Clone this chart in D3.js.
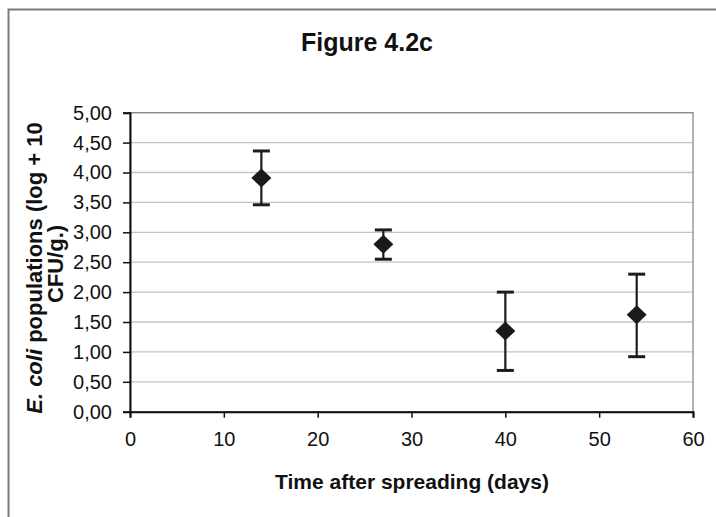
<!DOCTYPE html>
<html>
<head>
<meta charset="utf-8">
<script src="https://cdn.jsdelivr.net/npm/d3@7"></script>
<style>
  body { margin: 0; background: #fff; }
  text { font-family: "Liberation Sans", Arial, sans-serif; fill: #111; }
</style>
</head>
<body>
<script>
var width = 716, height = 517;

// data
var days = [14, 27, 40, 54];
var means = [3.91, 2.80, 1.35, 1.62];
var upper = [4.36, 3.04, 2.00, 2.30];
var lower = [3.46, 2.55, 0.69, 0.92];
var yTicks = [0, 0.5, 1, 1.5, 2, 2.5, 3, 3.5, 4, 4.5, 5];
var xTicks = [0, 10, 20, 30, 40, 50, 60];

var plotL = 130, plotR = 693, plotT = 112.7, plotB = 411.7;

var svg = d3.select("body").append("svg")
            .attr("width", width).attr("height", height);

// outer chart frame (runs off the page right and bottom)
svg.append("rect").attr("x", 8.5).attr("y", 9.5)
   .attr("width", 740).attr("height", 540)
   .attr("fill", "none").attr("stroke", "#7a7a7a").attr("stroke-width", 2);

var x = d3.scaleLinear().domain([0, 60]).range([plotL, plotR]);
var y = d3.scaleLinear().domain([0, 5]).range([plotB, plotT]);

// gridlines
svg.append("g").selectAll("line").data(yTicks.filter(function(d){ return d > 0; }))
   .enter().append("line")
   .attr("x1", plotL).attr("x2", plotR)
   .attr("y1", function(d){ return y(d); }).attr("y2", function(d){ return y(d); })
   .attr("stroke", "#c4c4c4").attr("stroke-width", 1.3);

// plot area border
svg.append("rect").attr("x", plotL).attr("y", plotT)
   .attr("width", plotR - plotL).attr("height", plotB - plotT)
   .attr("fill", "none").attr("stroke", "#8a8a8a").attr("stroke-width", 1.3);

var fmt = function(d){ return d3.format(".2f")(d).replace(".", ","); };

var yAxis = svg.append("g").attr("transform", "translate(" + plotL + ",0)")
   .call(d3.axisLeft(y).tickValues(yTicks).tickSize(7).tickPadding(11).tickFormat(fmt));
var xAxis = svg.append("g").attr("transform", "translate(0," + plotB + ")")
   .call(d3.axisBottom(x).tickValues(xTicks).tickSize(6).tickPadding(14));

[yAxis, xAxis].forEach(function(a){
  a.select(".domain").attr("stroke", "#111").attr("stroke-width", 2);
  a.selectAll(".tick line").attr("stroke", "#111").attr("stroke-width", 1.5);
  a.selectAll("text").style("font-size", "20px").attr("fill", "#111");
});

// error bars
var bars = svg.append("g").selectAll("g").data(days).enter().append("g");
bars.append("line")
    .attr("x1", function(d){ return x(d); }).attr("x2", function(d){ return x(d); })
    .attr("y1", function(d, i){ return y(upper[i]); })
    .attr("y2", function(d, i){ return y(lower[i]); })
    .attr("stroke", "#1c1c1c").attr("stroke-width", 2.2);
[upper, lower].forEach(function(arr){
  bars.append("line")
      .attr("x1", function(d){ return x(d) - 8.5; }).attr("x2", function(d){ return x(d) + 8.5; })
      .attr("y1", function(d, i){ return y(arr[i]); })
      .attr("y2", function(d, i){ return y(arr[i]); })
      .attr("stroke", "#1c1c1c").attr("stroke-width", 3);
});

// diamond markers
svg.append("g").selectAll("path").data(days).enter().append("path")
   .attr("d", function(d, i){
     var cx = x(d), cy = y(means[i]);
     return "M" + cx + "," + (cy - 9.5) + "L" + (cx + 10) + "," + cy +
            "L" + cx + "," + (cy + 9.5) + "L" + (cx - 10) + "," + cy + "Z";
   })
   .attr("fill", "#1a1a1a");

// titles
svg.append("text").attr("x", 367).attr("y", 51).attr("text-anchor", "middle")
   .style("font-size", "25px").style("font-weight", "bold").text("Figure 4.2c");

svg.append("text").attr("x", 412).attr("y", 489).attr("text-anchor", "middle")
   .style("font-size", "21px").style("font-weight", "bold").text("Time after spreading (days)");

var yl = svg.append("g").attr("transform", "translate(0,268) rotate(-90)");
var l1 = yl.append("text").attr("x", 0).attr("y", 42).attr("text-anchor", "middle")
   .style("font-size", "22px").style("font-weight", "bold");
l1.append("tspan").style("font-style", "italic").text("E. coli");
l1.append("tspan").text(" populations (log + 10");
yl.append("text").attr("x", 4).attr("y", 63).attr("text-anchor", "middle")
   .style("font-size", "22px").style("font-weight", "bold").text("CFU/g.)");
</script>
</body>
</html>
